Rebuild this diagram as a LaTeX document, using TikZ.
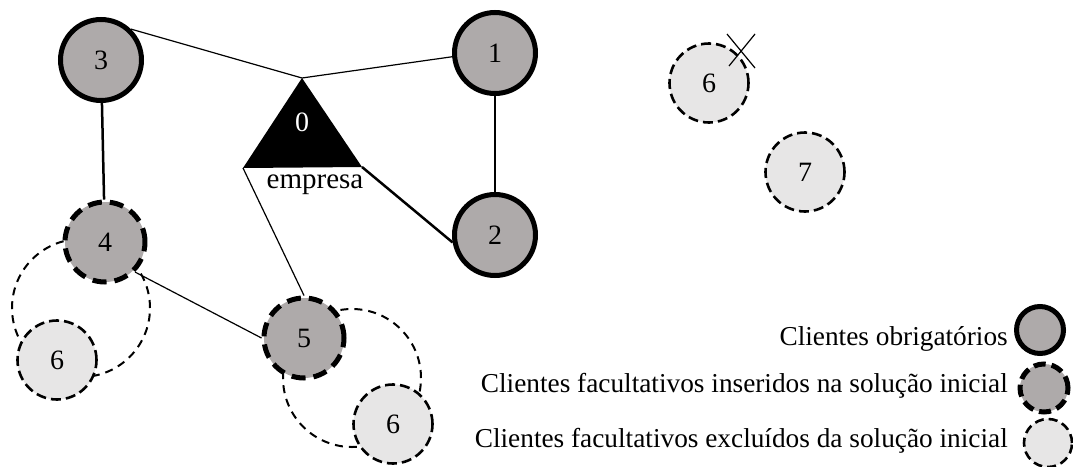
\documentclass[tikz,border=0pt]{standalone}
\usepackage{fontspec}
\setmainfont{Liberation Serif}
\usetikzlibrary{arrows}

\definecolor{cinzaesc}{RGB}{174,170,170}
\definecolor{cinzacla}{RGB}{231,230,230}
\newcommand{\numfont}{\fontsize{28}{28}\selectfont}
\newcommand{\legfont}{\fontsize{27.3}{27.3}\selectfont}

\tikzset{
	obrig/.style={circle, draw, line width=5pt, fill=cinzaesc, minimum size=81pt, inner sep=0pt, font=\numfont},
	insere/.style={circle, draw, line width=5pt, dash pattern=on 14pt off 8pt, fill=cinzaesc, minimum size=80pt, inner sep=0pt, font=\numfont},
	exclui/.style={circle, draw, line width=2.6pt, dash pattern=on 10pt off 5pt, fill=cinzacla, minimum size=79pt, inner sep=0pt, font=\numfont},
	rota/.style={line width=2pt, dash pattern=on 8pt off 6pt},
	legenda/.style={anchor=base east, font=\legfont, inner sep=0pt}
}

\begin{document}
\begin{tikzpicture}[x=1pt,y=-1pt]
			\useasboundingbox (0,0) rectangle (1073,466);

			% desvios possiveis (atras dos clientes)
			\draw[rota] (81,308) circle[radius=69pt];
			\draw[rota] (352,378) circle[radius=69pt];

			% empresa
			\coordinate (E1) at (302,78);
			\coordinate (E2) at (243,168);
			\coordinate (E3) at (362,167);
			\fill (E1) -- (E2) -- (E3) -- cycle;
			\node[text=white, font=\numfont] (0) at (302,122) {0};
			\node[font=\fontsize{29}{29}\selectfont] (emp) at (315,185) {empresa};

			\node[obrig] (3) at (101,60) {3};
			\node[obrig] (1) at (495,53) {1};
			\node[obrig] (2) at (495,235) {2};

			\node[insere] (4) at (105,242) {4};
			\node[insere] (5) at (304,338) {5};

			\node[exclui] (6a) at (57,360) {6};
			\node[exclui] (6b) at (393,424) {6};
			\node[exclui] (6c) at (709,83) {6};
			\node[exclui] (7) at (805,172) {7};

			\draw[line width=1.2pt] (3.46) -- (E1);
			\draw[line width=1.2pt] (E1) -- (1.185);
			\draw[line width=1.3pt] (1) -- (2);
			\draw[line width=2.5pt] (E3) -- (2.190);
			\draw[line width=2.5pt] (3) -- (4);
			\draw[line width=1.2pt] (E2) -- (5.north);
			\draw[line width=1.2pt] (4.-45) -- (5.west);

			% cliente 6 retirado
			\coordinate (X1) at (727,34);
			\coordinate (X2) at (755,68);
			\coordinate (X3) at (755,34);
			\coordinate (X4) at (729,66);
			\draw[line width=1.2pt] (X1) -- (X2);
			\draw[line width=1.2pt] (X3) -- (X4);

			% legenda
			\node[legenda] (T1) at (1008,345) {Clientes obrigatórios};
			\node[legenda] (T2) at (1008,392) {Clientes facultativos inseridos na solução inicial};
			\node[legenda] (T3) at (1008,447) {Clientes facultativos excluídos da solução inicial};
			\node[obrig, minimum size=47pt] (L1) at (1040,330) {};
			\node[insere, minimum size=48pt, dash pattern=on 12pt off 6pt] (L2) at (1044,388) {};
			\node[exclui, minimum size=48pt, dash pattern=on 9pt off 5pt] (L3) at (1048,443) {};
		\end{tikzpicture}
\end{document}
